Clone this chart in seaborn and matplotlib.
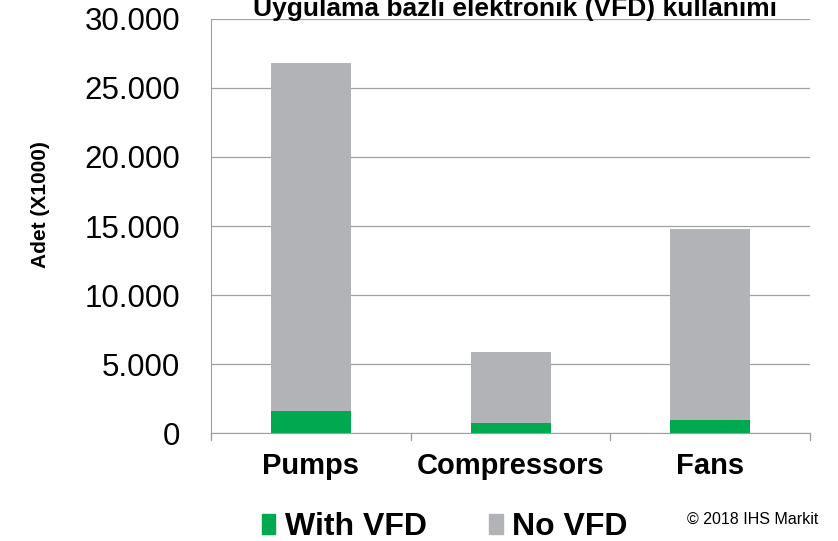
import numpy as np
import pandas as pd
import matplotlib.pyplot as plt
import seaborn as sns
from matplotlib.patches import Patch

# =====================================================
# DATA
# =====================================================

categories = ["Pumps", "Compressors", "Fans"]
with_vfd = [1600, 700, 950]
no_vfd = [25200, 5200, 13850]
y_ticks = [0, 5000, 10000, 15000, 20000, 25000, 30000]
y_tick_labels = ["0", "5.000", "10.000", "15.000", "20.000", "25.000", "30.000"]

green = "#00A84F"
grey = "#B1B3B6"

df = pd.DataFrame({
    "category": categories,
    "with_vfd": with_vfd,
    "total": np.array(with_vfd) + np.array(no_vfd),
})

# =====================================================
# PLOT
# =====================================================

sns.set_style("white")
plt.rcParams["font.family"] = ["Liberation Sans", "DejaVu Sans"]
plt.rcParams["text.color"] = "black"

fig = plt.figure(figsize=(8.38, 5.41), dpi=100)
ax = fig.add_axes([0.2518, 0.1996, 0.715, 0.7653])

sns.barplot(data=df, x="category", y="total", color=grey, width=0.4,
            saturation=1, linewidth=0, ax=ax)
sns.barplot(data=df, x="category", y="with_vfd", color=green, width=0.4,
            saturation=1, linewidth=0, ax=ax)

ax.set_ylim(0, 30000)
ax.set_xlim(-0.5, 2.5)
ax.set_yticks(y_ticks)
ax.set_yticklabels(y_tick_labels, fontsize=22.5, color="black")
ax.yaxis.grid(True, color="#A0A0A0", linewidth=0.9)
ax.set_axisbelow(True)

ax.set_xticks([0, 1, 2])
ax.set_xticklabels(categories, fontsize=21, fontweight="bold", color="black")
ax.tick_params(axis="x", length=0, pad=14)
ax.tick_params(axis="y", length=0, pad=22)
for xb in [-0.5, 0.5, 1.5, 2.5]:
    ax.plot([xb, xb], [0, -500], color="#A0A0A0", linewidth=1,
            clip_on=False)

for side in ["top", "right"]:
    ax.spines[side].set_visible(False)
ax.spines["left"].set_color("#A0A0A0")
ax.spines["bottom"].set_color("#A0A0A0")

ax.set_xlabel("")
ax.set_ylabel("Adet (X1000)", fontsize=15, fontweight="bold", color="black")
ax.yaxis.set_label_coords(-0.269, 0.552)

fig.text(0.615, 0.983, "Uygulama bazlı elektronik (VFD) kullanımı",
         ha="center", va="center", fontsize=19, fontweight="bold")

handles = [Patch(color=green, label="With VFD"), Patch(color=grey, label="No VFD")]
fig.legend(handles=handles, loc="center", bbox_to_anchor=(0.531, 0.025),
           ncol=2, frameon=False, prop={"size": 23, "weight": "bold"},
           handlelength=0.42, handleheight=0.58, handletextpad=0.3,
           columnspacing=1.95)

fig.text(0.976, 0.04, "© 2018 IHS Markit", ha="right", va="center",
         fontsize=11.5)

fig.savefig("out.png", dpi=100)
